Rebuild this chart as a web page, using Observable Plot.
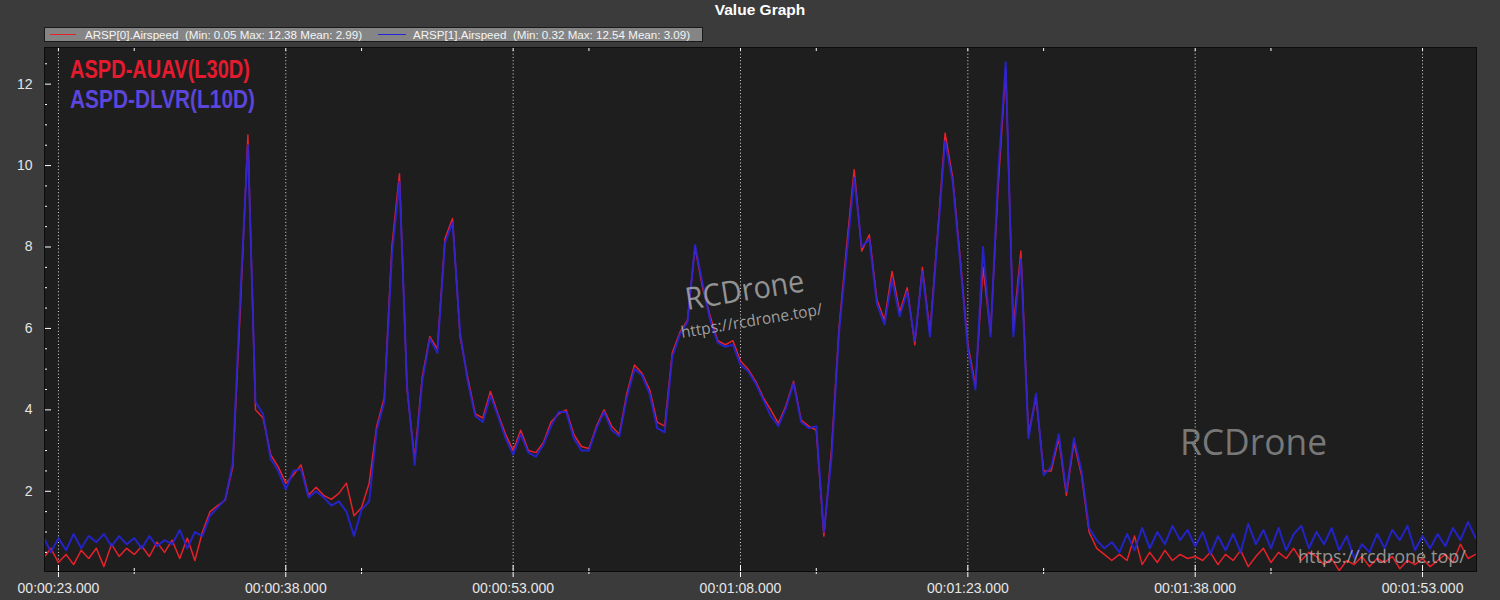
<!DOCTYPE html>
<html>
<head>
<meta charset="utf-8">
<script src="https://cdn.jsdelivr.net/npm/d3@7"></script>
<script src="https://cdn.jsdelivr.net/npm/@observablehq/plot@0.6"></script>
<style>
  html, body { margin: 0; padding: 0; background: #3b3b3b; }
  #wrap { position: relative; width: 1500px; height: 600px; overflow: hidden; font-family: "Liberation Sans", Arial, sans-serif; }
  #head { position: relative; height: 44px; }
  #title { position: absolute; left: 44px; width: 1432px; top: 1px; text-align: center; color: #ffffff; font-weight: bold; font-size: 15.5px; line-height: 17px; }
  #legend { position: absolute; left: 44px; top: 27px; width: 657px; height: 13px; background: #858585; border: 1px solid #1a1a1a; }
  #legend .sw { position: absolute; top: 6px; height: 1px; }
  #legend .tx { position: absolute; top: 0; font-size: 11.6px; line-height: 13px; color: #f4f4f4; white-space: pre; }
  #overlay { position: absolute; left: 0; top: 0; pointer-events: none; }
</style>
</head>
<body>
<div id="wrap">
  <div id="head">
    <div id="title"></div>
    <div id="legend"></div>
  </div>
  <div id="chart"></div>
  <svg id="overlay" width="1500" height="600"></svg>
</div>
<script>
// ---------------- data ----------------
const chartTitle = "Value Graph";
const seriesNames = ["ARSP[0].Airspeed", "ARSP[1].Airspeed"];
const seriesStats = ["(Min: 0.05 Max: 12.38 Mean: 2.99)", "(Min: 0.32 Max: 12.54 Mean: 3.09)"];
const seriesColors = ["#e8202a", "#2424d8"];
const sensorLabels = ["ASPD-AUAV(L30D)", "ASPD-DLVR(L10D)"];
const sensorColors = ["#e41b2e", "#5b45da"];

// samples every 0.5 s starting at 22.0 s (seconds since start of log)
const startTime = 22.0;
const sampleStep = 0.5;

const redValues = [
  0.35,0.6,0.25,0.45,0.2,0.55,0.35,0.6,0.15,0.7,
  0.4,0.6,0.45,0.65,0.4,0.75,0.5,0.8,0.35,0.85,
  0.3,1.0,1.5,1.65,1.78,2.6,6.5,10.75,4.0,3.8,
  2.9,2.6,2.2,2.4,2.65,1.9,2.1,1.9,1.8,1.95,
  2.2,1.4,1.6,2.2,3.6,4.3,8.0,9.8,4.5,2.8,
  4.8,5.8,5.5,8.2,8.7,5.8,4.8,3.9,3.8,4.45,
  3.9,3.4,3.0,3.5,3.0,2.95,3.2,3.7,3.9,4.0,
  3.4,3.1,3.05,3.6,4.0,3.6,3.4,4.4,5.1,4.9,
  4.5,3.7,3.6,5.4,5.9,6.2,8.0,7.0,6.3,5.7,
  5.6,5.7,5.2,5.0,4.7,4.3,4.0,3.67,4.1,4.7,
  3.75,3.6,3.5,0.9,3.0,6.0,8.0,9.9,7.9,8.3,
  6.7,6.2,7.4,6.4,7.0,5.6,7.5,5.9,8.3,10.8,
  9.7,7.7,5.6,4.6,7.5,5.9,9.5,12.38,6.0,7.9,
  3.4,4.3,2.5,2.5,3.3,1.9,3.2,2.4,1.0,0.6,
  0.45,0.3,0.45,0.3,0.9,0.2,0.5,0.25,0.55,0.3,
  0.45,0.35,0.4,0.3,0.5,0.2,0.45,0.3,0.55,0.15,
  0.4,0.6,0.25,0.5,0.35,0.6,0.3,0.5,0.4,0.2,
  0.35,0.05,0.3,0.2,0.4,0.15,0.35,0.25,0.4,0.1,
  0.3,0.2,0.35,0.15,0.3,0.45,0.25,0.7,0.35,0.45
];

const blueValues = [
  0.9,0.5,0.85,0.55,0.95,0.6,0.9,0.75,0.95,0.65,
  0.9,0.7,0.85,0.6,0.9,0.65,0.8,0.7,1.05,0.6,
  1.0,0.9,1.4,1.6,1.8,2.7,6.8,10.5,4.2,3.9,
  2.8,2.5,2.05,2.5,2.55,1.85,2.0,1.85,1.65,1.75,
  1.5,0.9,1.55,1.75,3.5,4.2,7.8,9.6,4.6,2.65,
  4.7,5.75,5.4,8.1,8.6,5.9,4.7,3.85,3.7,4.35,
  3.85,3.3,2.9,3.4,2.95,2.85,3.15,3.6,3.95,3.95,
  3.3,3.0,3.0,3.55,3.95,3.5,3.35,4.3,5.0,4.85,
  4.4,3.55,3.45,5.3,5.85,6.15,8.05,7.1,6.2,5.65,
  5.55,5.6,5.1,4.95,4.65,4.25,3.85,3.6,4.05,4.65,
  3.7,3.55,3.6,1.0,2.8,5.9,7.8,9.7,8.0,8.2,
  6.6,6.1,7.2,6.3,6.9,5.7,7.4,5.8,8.2,10.6,
  9.6,7.6,5.5,4.5,8.0,5.8,9.8,12.54,5.8,7.7,
  3.3,4.4,2.4,2.6,3.4,2.0,3.3,2.5,1.1,0.8,
  0.6,0.75,0.5,0.95,0.55,1.1,0.6,1.0,0.7,1.15,
  0.8,1.05,0.65,1.0,0.45,0.9,0.55,0.95,0.5,1.2,
  0.7,1.05,0.6,1.1,0.55,0.95,1.15,0.6,1.0,0.7,
  1.1,0.55,0.9,0.35,0.7,0.5,0.95,0.6,1.05,0.8,
  1.15,0.55,0.9,0.6,0.95,0.65,1.1,0.8,1.25,0.85
];

const xTicks = [23, 38, 53, 68, 83, 98, 113];
const xTickLabels = ["00:00:23.000","00:00:38.000","00:00:53.000","00:01:08.000","00:01:23.000","00:01:38.000","00:01:53.000"];
const xMinorTicks = [28, 43, 58, 73, 88, 103];
const yTicks = [2, 4, 6, 8, 10, 12];

// ---------------- header ----------------
document.getElementById("title").textContent = chartTitle;
const legend = document.getElementById("legend");
const legendLayout = [{sw: 5, sww: 26, tx: 40}, {sw: 333, sww: 28, tx: 368}];
seriesNames.forEach((name, i) => {
  const sw = document.createElement("div");
  sw.className = "sw";
  sw.style.left = legendLayout[i].sw + "px";
  sw.style.width = legendLayout[i].sww + "px";
  sw.style.background = seriesColors[i];
  legend.appendChild(sw);
  const tx = document.createElement("div");
  tx.className = "tx";
  tx.style.left = legendLayout[i].tx + "px";
  tx.textContent = name + "  " + seriesStats[i];
  legend.appendChild(tx);
});

// ---------------- chart ----------------
const redData = redValues.map((v, i) => ({t: startTime + sampleStep * i, v}));
const blueData = blueValues.map((v, i) => ({t: startTime + sampleStep * i, v}));
const yMinor = d3.range(0.5, 12.9, 0.5).filter(v => !yTicks.includes(v));

const frameW = 1500 - 44 - 24;
const frameH = 556 - 3 - 29;

const chart = Plot.plot({
  width: 1500,
  height: 556,
  marginTop: 3,
  marginBottom: 29,
  marginLeft: 44,
  marginRight: 24,
  style: {background: "transparent", color: "#e6e6e6", fontSize: "14px", fontFamily: "'Liberation Sans', Arial, sans-serif"},
  x: {domain: [22.08, 116.56]},
  y: {domain: [0.03, 12.9]},
  marks: [
    Plot.frame({fill: "#1e1e1e", stroke: null}),
    Plot.gridX(xTicks, {stroke: "#ffffff", strokeOpacity: 0.85, strokeDasharray: "1,2.3"}),
    Plot.line(redData, {x: "t", y: "v", stroke: seriesColors[0], strokeWidth: 1.5, clip: true}),
    Plot.line(blueData, {x: "t", y: "v", stroke: seriesColors[1], strokeWidth: 2, strokeOpacity: 0.9, clip: true}),
    Plot.ruleX(xTicks, {stroke: "#ffffff", insetTop: frameH - 6, insetBottom: -6}),
    Plot.ruleX(xMinorTicks, {stroke: "#ffffff", insetTop: frameH - 3, insetBottom: -3}),
    Plot.ruleX(xTicks.concat(xMinorTicks), {stroke: "#ffffff", insetBottom: frameH - 4}),
    Plot.ruleY(yTicks, {stroke: "#ffffff", insetRight: frameW - 7}),
    Plot.ruleY(yMinor, {stroke: "#ffffff", insetRight: frameW - 3}),
    Plot.axisX(xTicks, {tickSize: 0, tickPadding: 12, label: null, tickFormat: (d) => xTickLabels[xTicks.indexOf(d)]}),
    Plot.axisY(yTicks, {tickSize: 0, tickPadding: 12, label: null}),
    Plot.frame({stroke: "#0c0c0c"})
  ]
});
document.getElementById("chart").appendChild(chart);

// ---------------- text overlay (labels and watermarks) ----------------
const ov = d3.select("#overlay");
const labelY = [78, 108];
const labelW = [180, 185];
sensorLabels.forEach((s, i) => {
  ov.append("text")
    .attr("x", 70).attr("y", labelY[i])
    .attr("fill", sensorColors[i])
    .attr("font-family", "'Liberation Sans', Arial, sans-serif")
    .attr("font-weight", "bold").attr("font-size", 26)
    .attr("textLength", labelW[i]).attr("lengthAdjust", "spacingAndGlyphs")
    .text(s);
});
const marks = [
  {s: "RCDrone", x: 687, y: 310, r: -9, size: 31, w: 120, c: "rgba(175,175,175,0.82)"},
  {s: "https://rcdrone.top/", x: 682, y: 338, r: -9.5, size: 16, w: 143, c: "rgba(190,190,190,0.82)"},
  {s: "RCDrone", x: 1180, y: 455, r: 0, size: 37, w: 147, c: "rgba(150,150,150,0.75)"},
  {s: "https://rcdrone.top/", x: 1298, y: 563, r: 0, size: 19, w: 168, c: "rgba(200,200,200,0.7)"}
];
marks.forEach(m => {
  ov.append("text")
    .attr("x", m.x).attr("y", m.y)
    .attr("transform", `rotate(${m.r} ${m.x} ${m.y})`)
    .attr("fill", m.c)
    .attr("font-family", "'Open Sans', 'Noto Sans', sans-serif")
    .attr("font-size", m.size)
    .attr("textLength", m.w).attr("lengthAdjust", "spacingAndGlyphs")
    .text(m.s);
});
</script>
</body>
</html>
